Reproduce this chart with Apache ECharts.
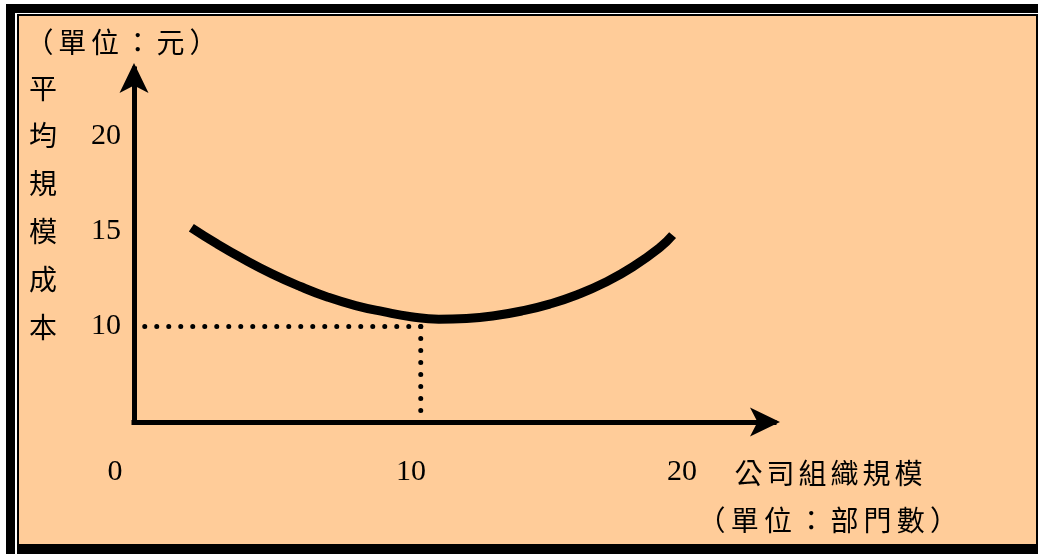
<!DOCTYPE html>
<html>
<head>
<meta charset="utf-8">
<title>平均規模成本</title>
<script src="https://cdn.jsdelivr.net/npm/echarts@6/dist/echarts.min.js"></script>
<style>
  html, body { margin: 0; padding: 0; background: #ffffff; }
  #chart { width: 1038px; height: 554px; }
</style>
</head>
<body>
<div id="chart"></div>
<script>
// Average cost per unit of organisation size (U-shaped curve)
const sizeValues = [2.07, 3, 4, 5, 6, 7, 8, 9, 10, 11, 12, 13, 14, 15, 16, 17, 18, 19, 19.44];
const costValues = [15.18, 14.33, 13.5, 12.75, 12.1, 11.54, 11.1, 10.78, 10.52, 10.39,
                    10.43, 10.57, 10.82, 11.18, 11.67, 12.31, 13.13, 14.17, 14.79];

// Reference point marked by the dotted guides
const optimumSize = 10.35;
const optimumCost = 10;

// Tick labels
const xTickLabels = [0, 10, 20];
const yTickLabels = [10, 15, 20];

// Texts
const yUnitText = '（單位：元）';
const yTitleText = '平均規模成本';
const xTitleText = '公司組織規模';
const xUnitText = '（單位：部門數）';

const PEACH = '#FFCC99';
const INK = '#000000';
const CJK = '"Noto Sans CJK TC", "Noto Sans CJK SC", sans-serif';
const NUM = '"Liberation Serif", "DejaVu Serif", serif';
const CJK_SIZE = 28;

const curveData = sizeValues.map((x, i) => [x, costValues[i]]);

// spaced-out characters via fixed-width rich tokens
function spaced(str) {
  return Array.from(str).map(ch => '{c|' + ch + '}').join('');
}
function spacedText(str, x, y, pitch) {
  return {
    type: 'text',
    x: x, y: y, z: 10,
    style: {
      text: spaced(str),
      align: 'left',
      verticalAlign: 'middle',
      fill: INK,
      font: CJK_SIZE + 'px ' + CJK,
      rich: { c: { width: pitch, align: 'center', fontSize: CJK_SIZE, fontFamily: CJK, fill: INK } }
    }
  };
}

const axisArrow = {
  show: true,
  symbol: ['none', 'arrow'],
  symbolSize: [21.75, 30],
  symbolOffset: [0, 6],
  lineStyle: { color: INK, width: 5, cap: 'square' }
};

const chart = echarts.init(document.getElementById('chart'), null, { renderer: 'canvas' });

chart.setOption({
  backgroundColor: '#ffffff',
  animation: false,
  graphic: [
    // frame
    { type: 'rect', z: -10, shape: { x: 6, y: 4, width: 1032, height: 9 }, style: { fill: INK } },
    { type: 'rect', z: -10, shape: { x: 6, y: 4, width: 9, height: 550 }, style: { fill: INK } },
    { type: 'rect', z: -10, shape: { x: 17, y: 14, width: 1021, height: 540 }, style: { fill: INK } },
    { type: 'rect', z: -9, shape: { x: 19, y: 16, width: 1017, height: 528 }, style: { fill: PEACH } },
    // titles
    spacedText(yUnitText, 23, 42, 32.8),
    {
      type: 'text', x: 43, y: 64, z: 10,
      style: {
        text: Array.from(yTitleText).join('\n'),
        align: 'center', verticalAlign: 'top',
        lineHeight: 47.8, fill: INK,
        font: CJK_SIZE + 'px ' + CJK
      }
    },
    spacedText(xTitleText, 732.5, 473, 32),
    spacedText(xUnitText, 695, 520, 33.2)
  ],
  grid: { left: 134, right: 264, top: 69, bottom: 132, containLabel: false },
  xAxis: {
    type: 'value',
    min: 0,
    max: 23.1,
    splitLine: { show: false },
    axisTick: { show: false },
    axisLine: axisArrow,
    axisLabel: {
      customValues: xTickLabels,
      margin: 35,
      color: INK,
      fontFamily: NUM,
      fontSize: 30,
      // the origin label sits left of the vertical axis, the last one slightly inward
      formatter: v => (v === 0 ? '{o|0}' : v === 20 ? '{t|20}' : String(v)),
      rich: {
        o: { padding: [0, 38, 0, 0], fontFamily: NUM, fontSize: 30, color: INK },
        t: { padding: [0, 12, 0, 0], fontFamily: NUM, fontSize: 30, color: INK }
      }
    }
  },
  yAxis: {
    type: 'value',
    min: 5,
    max: 23.5,
    splitLine: { show: false },
    axisTick: { show: false },
    axisLine: axisArrow,
    axisLabel: {
      customValues: yTickLabels,
      margin: 13,
      color: INK,
      fontFamily: NUM,
      fontSize: 30
    }
  },
  series: [
    {
      type: 'line',
      symbol: 'none',
      silent: true,
      data: [[optimumSize, optimumCost], [0, optimumCost]],
      lineStyle: { color: INK, width: 5, type: [0, 12], cap: 'round' },
      z: 3
    },
    {
      type: 'line',
      symbol: 'none',
      silent: true,
      data: [[optimumSize, optimumCost], [optimumSize, 5]],
      lineStyle: { color: INK, width: 5, type: [0, 12], cap: 'round' },
      z: 3
    },
    {
      type: 'line',
      symbol: 'none',
      smooth: true,
      silent: true,
      data: curveData,
      lineStyle: { color: INK, width: 9, cap: 'butt' },
      z: 4
    }
  ]
});
</script>
</body>
</html>
